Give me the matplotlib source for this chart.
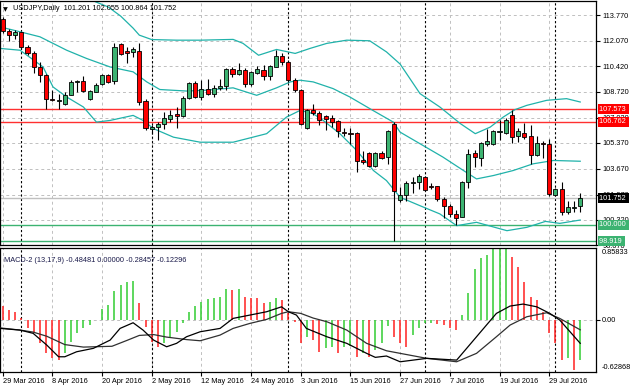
import matplotlib
matplotlib.use('Agg')
import matplotlib.pyplot as plt
import numpy as np

# USDJPY daily bars, 29 Mar 2016 .. 5 Aug 2016
opens = [113.49, 112.70, 112.43, 112.63, 111.64, 111.31, 110.36, 109.82, 108.24, 108.12,
         107.91, 108.55, 109.40, 109.42, 108.26, 108.74, 109.22, 109.84, 109.42, 111.84,
         111.40, 111.35, 111.42, 108.10, 106.31, 106.41, 106.64, 106.97, 107.25, 107.14,
         108.32, 109.28, 108.39, 108.94, 108.61, 109.01, 109.11, 110.21, 109.93, 110.15,
         109.22, 109.97, 110.15, 109.75, 110.36, 111.11, 110.69, 109.53, 108.83, 106.35,
         107.56, 107.33, 107.12, 107.03, 106.81, 106.08, 106.02, 106.02, 104.22, 104.70,
         103.84, 104.74, 104.44, 106.64, 101.63, 101.98, 102.72, 102.79, 103.12, 102.53,
         102.53, 101.69, 101.25, 100.71, 100.53, 102.79, 104.70, 104.40, 105.27, 105.27,
         106.08, 106.02, 107.18, 105.80, 106.04, 105.80, 104.59, 105.40, 105.27, 101.98,
         102.35, 100.81, 101.12, 101.201]
highs = [113.64, 112.83, 112.78, 112.67, 111.79, 111.42, 110.69, 109.93, 108.83, 108.61,
         108.72, 109.49, 109.53, 109.75, 108.88, 109.31, 109.93, 109.93, 111.91, 111.91,
         111.68, 111.68, 111.91, 108.26, 106.52, 106.74, 107.40, 107.51, 107.73, 108.45,
         109.38, 109.45, 109.49, 109.55, 109.16, 109.60, 110.26, 110.36, 110.63, 110.26,
         110.10, 110.43, 110.48, 110.48, 111.46, 111.29, 110.81, 109.64, 108.94, 107.62,
         107.91, 107.46, 107.18, 107.18, 106.90, 106.37, 106.35, 106.08, 104.83, 104.76,
         104.76, 104.83, 106.19, 106.74, 102.46, 102.90, 103.12, 103.34, 103.23, 102.72,
         102.57, 101.80, 101.36, 100.97, 102.85, 104.99, 104.88, 105.42, 106.30, 106.24,
         106.85, 107.03, 107.51, 106.37, 106.68, 106.52, 105.86, 105.49, 105.65, 102.42,
         102.79, 101.58, 101.58, 102.055]
lows = [112.58, 112.08, 112.17, 111.51, 111.13, 109.97, 109.38, 107.62, 108.12, 107.62,
        107.84, 108.50, 108.72, 108.72, 108.17, 108.70, 109.18, 109.31, 109.22, 111.13,
        110.63, 111.02, 107.84, 106.19, 105.98, 105.54, 106.31, 106.74, 106.37, 107.07,
        108.24, 108.32, 108.17, 108.50, 108.39, 108.83, 108.83, 109.67, 109.82, 109.05,
        109.14, 109.88, 109.49, 109.49, 110.33, 110.48, 109.38, 108.72, 106.52, 106.31,
        107.18, 106.52, 106.19, 106.41, 105.75, 105.80, 105.32, 103.45, 104.00, 103.78,
        103.78, 104.33, 104.00, 98.90, 101.47, 101.54, 102.06, 102.35, 102.24, 102.35,
        101.58, 100.44, 100.53, 99.99, 100.48, 102.42, 103.82, 103.89, 105.14, 105.21,
        105.54, 105.93, 105.36, 105.42, 105.65, 104.00, 104.53, 104.40, 101.91, 101.91,
        100.66, 100.70, 100.81, 100.864]
closes = [112.74, 112.47, 112.65, 111.64, 111.31, 110.36, 109.82, 108.24, 108.17, 108.15,
          108.55, 109.36, 109.44, 108.78, 108.78, 109.20, 109.82, 109.38, 111.64, 111.20,
          111.25, 111.51, 108.06, 106.35, 106.41, 106.64, 107.03, 107.23, 107.14, 108.32,
          109.31, 108.42, 108.94, 108.61, 109.01, 109.14, 110.21, 109.93, 110.15, 109.22,
          110.02, 110.21, 109.75, 110.41, 111.11, 110.69, 109.53, 108.88, 106.59, 107.51,
          107.33, 106.90, 106.94, 106.72, 106.15, 106.02, 105.95, 104.17, 104.13, 103.84,
          104.70, 104.39, 106.13, 102.24, 101.96, 102.72, 102.79, 103.23, 102.31, 102.46,
          101.69, 101.25, 100.71, 100.44, 102.79, 104.66, 104.44, 105.36, 105.47, 106.13,
          106.15, 106.85, 105.75, 106.13, 105.75, 104.59, 105.40, 105.27, 102.02, 102.35,
          100.86, 101.19, 101.19, 101.752]

# Bollinger bands, sampled along the picture (bar position, price)
bb_up_x = [-0.5, 6, 12, 14, 15, 17, 19, 21, 22, 24, 28, 31.8, 37.1, 38.7, 41.2, 44.1, 47.1,
           49.5, 52.2, 55.4, 59.1, 61.8, 64, 67.2, 70.4, 73.7, 76.1, 78.5, 80.6, 82.5, 84.4,
           87.6, 90.8, 93]
bb_up = [115.2, 115.3, 115.1, 114.85, 114.63, 114.30, 113.70, 112.91, 112.45, 112.16, 112.12,
         112.12, 112.17, 111.91, 111.13, 111.51, 111.25, 111.58, 111.91, 112.12, 112.08, 111.35,
         110.55, 108.61, 107.73, 106.64, 105.98, 106.41, 107.07, 107.56, 107.84, 108.17,
         108.28, 108.06]
bb_mid_x = [-0.5, 2.8, 6.0, 10.3, 13.5, 17.3, 21.0, 23.2, 25.3, 29.6, 32.6, 37.1, 40.9, 44.1,
            46.3, 47.9, 50.0, 53.2, 55.9, 59.6, 62.9, 64.0, 67.2, 70.9, 74.2, 76.3, 79.0,
            82.2, 85.4, 88.7, 93.0]
bb_mid = [113.00, 112.67, 112.34, 111.46, 110.92, 110.36, 110.04, 109.38, 108.88, 108.78,
          108.83, 108.99, 108.50, 108.99, 109.38, 109.49, 109.38, 108.94, 108.39, 107.51,
          106.74, 106.08, 105.32, 104.44, 103.56, 103.01, 103.23, 103.56, 104.00, 104.22,
          104.17]
bb_low_x = [-0.5, 2.8, 6.5, 8.1, 10.3, 13.0, 15.1, 17.3, 21.0, 22.6, 24.3, 27.5, 31.8, 37.1,
            42.5, 45.7, 47.9, 50.0, 51.6, 54.3, 57.0, 59.7, 61.8, 64.0, 67.2, 70.4, 73.1,
            76.3, 81.2, 84.4, 87.4, 89.7, 93.0]
bb_low = [111.58, 111.46, 110.36, 109.05, 108.39, 107.73, 106.74, 106.85, 107.18, 106.85,
          106.31, 105.75, 105.42, 105.42, 105.98, 107.07, 107.51, 107.29, 106.85, 105.98,
          104.88, 103.56, 102.90, 101.80, 101.25, 100.71, 99.94, 100.16, 99.61, 99.83,
          100.22, 100.09, 100.31]

# MACD-2 (13,17,9): histogram per bar and the two lines
hist = [0.162, 0.114, 0.094, 0.014, -0.106, -0.166, -0.286, -0.406, -0.466, -0.486,
        -0.406, -0.266, -0.166, -0.106, -0.066, -0.006, 0.122, 0.174, 0.345, 0.414,
        0.453, 0.462, 0.202, -0.086, -0.266, -0.326, -0.286, -0.226, -0.146, -0.046,
        0.094, 0.160, 0.214, 0.242, 0.254, 0.266, 0.362, 0.354, 0.370, 0.274,
        0.262, 0.254, 0.194, 0.214, 0.254, 0.234, 0.074, -0.026, -0.278, -0.206,
        -0.246, -0.386, -0.346, -0.330, -0.406, -0.326, -0.318, -0.446, -0.406, -0.446,
        -0.366, -0.286, -0.078, -0.206, -0.286, -0.326, -0.186, -0.106, -0.046, -0.038,
        -0.054, -0.066, -0.106, -0.126, 0.054, 0.322, 0.602, 0.734, 0.774, 0.854,
        0.855, 0.858, 0.754, 0.634, 0.454, 0.274, 0.234, 0.094, -0.166, -0.286,
        -0.486, -0.466, -0.600, -0.48481]
macd_x = [-0.4, 2.8, 4.9, 7.1, 9, 10, 11.9, 14.6, 17.3, 18.9, 21, 22.6, 24.3, 26.4, 28, 29.6,
          31.8, 35, 37.1, 39.8, 42.5, 44.9, 46, 47.3, 48.9, 52.2, 55.4, 58.6, 60, 61.8, 64,
          68.3, 73.1, 76.3, 79.5, 81.7, 83.8, 86, 88.1, 89.7, 93]
macd_line = [-0.106, -0.126, -0.165, -0.306, -0.446, -0.446, -0.386, -0.345, -0.246, -0.106,
             -0.038, -0.126, -0.246, -0.326, -0.285, -0.206, -0.146, -0.106, 0.014, 0.054,
             0.094, 0.153, 0.094, 0.054, -0.106, -0.206, -0.285, -0.405, -0.453, -0.437,
             -0.506, -0.465, -0.486, -0.206, 0.074, 0.162, 0.186, 0.153, 0.074, -0.006,
             -0.28457]
sig_x = [-0.4, 2.8, 4.9, 7.1, 10, 13, 17.6, 20, 22, 24.3, 26.4, 29.6, 31.8, 35, 37.1, 39.8,
         42.5, 44.9, 46, 48, 50, 52.2, 55.4, 58.6, 61.8, 64, 68.3, 73.1, 76.3, 79.5, 81.7,
         84.4, 87.6, 89.7, 93]
sig_line = [-0.10, -0.126, -0.150, -0.200, -0.300, -0.330, -0.320, -0.250, -0.190, -0.180,
            -0.210, -0.240, -0.254, -0.186, -0.106, -0.046, 0.002, 0.074, 0.094, 0.074,
            0.018, -0.026, -0.126, -0.285, -0.374, -0.405, -0.465, -0.506, -0.405, -0.206,
            -0.066, 0.034, 0.082, 0.014, -0.12296]

date_ticks = [0, 8, 16, 24, 32, 40, 48, 56, 64, 72, 80, 88]
date_labels = ['29 Mar 2016', '8 Apr 2016', '20 Apr 2016', '2 May 2016', '12 May 2016',
               '24 May 2016', '3 Jun 2016', '15 Jun 2016', '27 Jun 2016', '7 Jul 2016',
               '19 Jul 2016', '29 Jul 2016']
month_starts = [3, 24, 46, 68, 89]
price_ticks = [113.770, 112.070, 110.420, 108.720, 107.020, 105.370, 103.670, 101.970,
               100.320, 98.670]
red_levels = [107.573, 106.762]
green_levels = [100.000, 98.919]
last_price = 101.752

plt.rcParams['font.family'] = ['Liberation Sans', 'DejaVu Sans']
FS = 5.3
W, H = 630, 388
fig = plt.figure(figsize=(W / 100, H / 100), dpi=100)

def px(l, t, r, b):
    return [l / W, 1 - b / H, (r - l) / W, (b - t) / H]

ax = fig.add_axes(px(0, 1, 596, 245))
mx = fig.add_axes(px(0, 248, 596, 372))
xlim = (-2.7 / 6.21, (596 - 2.7) / 6.21)

grid_kw = dict(color='#c0c0c0', lw=0.7, ls=(0, (3, 3)), zorder=0)
sep_kw = dict(color='black', lw=0.8, ls=(0, (2, 2)), zorder=1)

# ---- price panel
for p in price_ticks:
    ax.axhline(p, **grid_kw)
for a in (ax, mx):
    for t in date_ticks:
        a.axvline(t, **grid_kw)
    for m in month_starts:
        a.axvline(m, **sep_kw)

ax.axhline(last_price, color='#c0c0c0', lw=1.0, zorder=1)
for lv in red_levels:
    ax.axhline(lv, color='#ff3030', lw=1.0, zorder=2)
for lv in green_levels:
    ax.axhline(lv, color='#3cb371', lw=1.0, zorder=2)

ax.plot(bb_up_x, bb_up, color='#20b2aa', lw=0.9, zorder=2)
ax.plot(bb_mid_x, bb_mid, color='#20b2aa', lw=0.9, zorder=2)
ax.plot(bb_low_x, bb_low, color='#20b2aa', lw=0.9, zorder=2)

xs = np.arange(len(opens))
o = np.array(opens); c = np.array(closes)
ax.vlines(xs, lows, highs, color='black', lw=0.8, zorder=3)
body_col = ['#3cb371' if cc >= oo else '#ff0000' for oo, cc in zip(o, c)]
ax.bar(xs, np.maximum(np.abs(c - o), 0.04), bottom=np.minimum(o, c), width=0.66,
       color=body_col, edgecolor='black', linewidth=0.6, zorder=4)

ax.set_xlim(*xlim)
ax.set_ylim(113.77 - 229.0 / 15.18, 113.77 + 14.0 / 15.18)
ax.yaxis.tick_right()
ax.set_yticks(price_ticks)
ax.set_yticklabels(['%.3f' % p for p in price_ticks], fontsize=FS)
ax.tick_params(axis='y', length=3, width=0.8, pad=1.5)
ax.set_xticks([])

lab_tf = ax.get_yaxis_transform()
for lv, fc in [(red_levels[0], '#ff0000'), (red_levels[1], '#ff0000'),
               (last_price, 'black'), (green_levels[0], '#3cb371'), (green_levels[1], '#3cb371')]:
    ax.text(1.005, lv, '%.3f ' % lv, transform=lab_tf, ha='left', va='center', fontsize=FS,
            color='white', clip_on=False, zorder=6,
            bbox=dict(boxstyle='square,pad=0.2', fc=fc, ec='none'))

ax.text(0.005, 0.975, '\u25bc', transform=ax.transAxes, fontsize=4.5, va='top', ha='left',
        family='DejaVu Sans')
ax.text(0.022, 0.982, 'USDJPY,Daily  101.201 102.055 100.864 101.752', transform=ax.transAxes,
        fontsize=FS, va='top', ha='left')

# ---- MACD panel
mx.axhline(0, **grid_kw)
hist = np.array(hist)
hcol = ['#32cd32' if i > 0 and hist[i] > hist[i - 1] else '#ff2020' for i in range(len(hist))]
mx.vlines(xs, 0, hist, colors=hcol, lw=1.1, zorder=2)
mx.plot(sig_x, sig_line, color='#303030', lw=0.9, zorder=3)
mx.plot(macd_x, macd_line, color='black', lw=0.9, zorder=3)
mx.set_xlim(*xlim)
mx.set_ylim(-0.62868, 0.85833)
mx.yaxis.tick_right()
mx.set_yticks([0.0])
mx.set_yticklabels(['0.00'], fontsize=FS)
mx.tick_params(axis='y', length=3, width=0.8, pad=1.5)
mx.text(1.01, 0.99, '0.85833', transform=mx.transAxes, fontsize=FS, va='top', ha='left')
mx.text(1.01, 0.01, '-0.62868', transform=mx.transAxes, fontsize=FS, va='bottom', ha='left')
mx.text(0.006, 0.93, 'MACD-2 (13,17,9) -0.48481 0.00000 -0.28457 -0.12296',
        transform=mx.transAxes, fontsize=FS, va='top', ha='left', color='#1a1a4a')

mx.set_xticks(date_ticks)
mx.set_xticklabels(date_labels, fontsize=FS, ha='left')
mx.tick_params(axis='x', length=3, width=0.8, pad=1.5)

for a in (ax, mx):
    for s in a.spines.values():
        s.set_color('black')
        s.set_linewidth(0.9)

fig.savefig('out.png', dpi=100, facecolor='white')
